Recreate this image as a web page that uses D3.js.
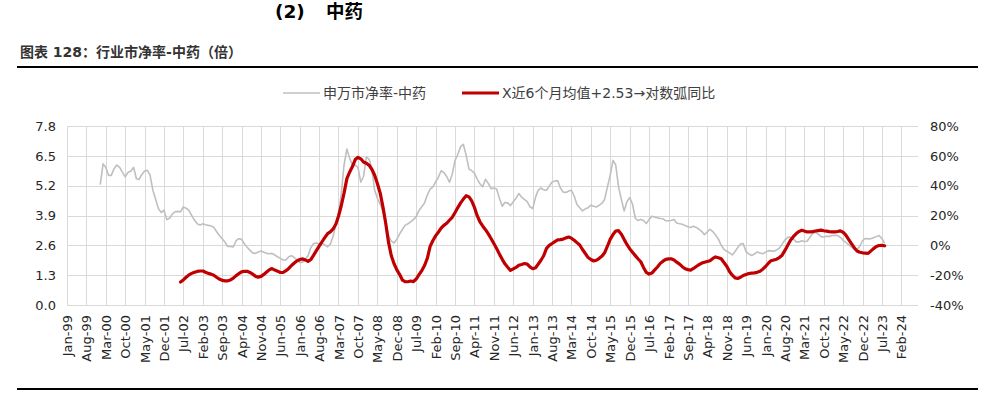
<!DOCTYPE html>
<html>
<head>
<meta charset="utf-8">
<script src="https://cdn.jsdelivr.net/npm/d3@7"></script>
<style>
  body { margin: 0; background: #fff; }
  svg text { font-family: "DejaVu Sans", "Noto Sans CJK SC", sans-serif; }
</style>
</head>
<body>
<div id="chart"></div>
<script>
// datos: PB mensual (desde ene-2000) y serie roja (desde jun-2002), hasta ago-2023
const pbStart = new Date(2000, 0, 1);
const pbValues = [
  5.25, 6.15, 6.0, 5.65, 5.65, 5.94, 6.10, 6.0, 5.78, 5.58, 5.78, 5.83,
  6.0, 5.5, 5.47, 5.68, 5.84, 5.87, 5.66, 5.0, 4.6, 4.2, 4.03, 4.13,
  3.72, 3.78, 3.96, 4.06, 4.08, 4.06, 4.27, 4.22, 4.12, 3.9, 3.7, 3.54,
  3.48, 3.54, 3.5, 3.47, 3.45, 3.38, 3.2, 3.03, 2.89, 2.74, 2.55, 2.55,
  2.53, 2.8, 2.89, 2.86, 2.67, 2.52, 2.39, 2.27, 2.25, 2.31, 2.35, 2.3,
  2.25, 2.23, 2.25, 2.18, 2.1, 2.03, 1.96, 1.96, 2.1, 2.15, 2.07, 1.96,
  1.85, 1.87, 2.0, 2.15, 2.5, 2.68, 2.7, 2.66, 2.69, 2.62, 2.54, 2.65,
  3.0, 3.5, 4.0, 4.85, 6.1, 6.8, 6.4, 6.1, 6.1, 6.0, 5.35, 5.6,
  6.45, 6.35, 5.95, 5.0, 4.65, 4.4, 4.05, 3.55, 3.0, 2.78, 2.7, 2.87,
  3.1, 3.3, 3.47, 3.54, 3.62, 3.72, 3.85, 4.12, 4.28, 4.45, 4.8, 5.05,
  5.15, 5.37, 5.56, 5.85, 5.77, 5.6, 5.35, 5.7, 6.3, 6.57, 6.9, 7.0,
  6.52, 5.92, 5.86, 5.75, 5.5, 5.28, 5.15, 5.48, 5.3, 5.07, 5.1, 5.05,
  4.65, 4.3, 4.47, 4.45, 4.33, 4.5, 4.65, 4.86, 4.7, 4.6, 4.5, 4.28,
  4.2, 4.7, 5.0, 5.1, 5.02, 5.0, 5.18, 5.36, 5.4, 5.42, 5.1, 4.92,
  4.9, 4.97, 5.0, 4.75, 4.38, 4.24, 4.1, 4.19, 4.24, 4.35, 4.3, 4.27,
  4.35, 4.44, 4.6, 5.15, 5.65, 6.3, 6.1, 5.15, 4.6, 4.1, 4.5, 4.68,
  4.4, 3.78, 3.68, 3.73, 3.68, 3.55, 3.72, 3.87, 3.83, 3.8, 3.77, 3.76,
  3.67, 3.67, 3.68, 3.73, 3.57, 3.54, 3.52, 3.46, 3.41, 3.38, 3.43, 3.38,
  3.3, 3.2, 3.06, 3.18, 3.3, 3.2, 3.05, 2.88, 2.6, 2.43, 2.34, 2.27,
  2.18, 2.33, 2.5, 2.66, 2.68, 2.32, 2.23, 2.16, 2.22, 2.31, 2.27, 2.23,
  2.3, 2.37, 2.36, 2.34, 2.4, 2.48, 2.65, 2.84, 2.95, 2.96, 2.89, 2.75,
  2.75, 2.8, 2.77, 2.78, 2.94, 3.12, 3.17, 3.09, 2.98, 2.96, 3.0, 2.98,
  3.03, 3.04, 3.03, 2.95, 2.82, 2.73, 2.63, 2.53, 2.43, 2.42, 2.56, 2.8,
  2.9, 2.88, 2.89, 2.93, 2.98, 3.03, 2.9, 2.69
];

const yoyStart = new Date(2002, 5, 1);
const yoyValues = [
  -24.6, -23.2, -21.4, -19.8, -18.8, -18.0, -17.5,
  -17.2, -17.2, -18.0, -18.8, -19.3, -20.1, -21.4, -22.6, -23.5, -23.8, -23.8, -23.2,
  -22.0, -20.3, -19.0, -17.8, -17.4, -17.4, -18.2, -19.3, -20.8, -21.3, -20.8, -19.5,
  -17.9, -16.3, -15.6, -16.6, -17.3, -18.2, -18.2, -17.0, -15.5, -13.5, -11.8, -10.4,
  -9.5, -9.1, -9.8, -10.8, -9.5, -6.6, -3.6, -0.6, 2.4, 5.2, 7.8, 9.0,
  11.0, 14.3, 19.5, 26.7, 35.0, 44.7, 49.0, 52.8, 57.5, 59.0, 58.0, 55.9,
  55.0, 53.6, 51.0, 47.0, 41.5, 35.0, 25.8, 14.7, 1.8, -7.0, -12.5, -16.5,
  -19.6, -23.4, -24.4, -24.4, -23.9, -24.3, -22.6, -19.7, -16.9, -13.5, -8.6, -0.7,
  3.2, 6.5, 8.8, 11.5, 13.4, 14.8, 16.8, 18.8, 22.0, 25.3, 28.5, 31.0,
  33.3, 32.5, 30.0, 25.6, 20.0, 15.8, 13.0, 10.5, 7.7, 4.6, 1.2, -2.2,
  -5.9, -9.4, -12.4, -14.7, -16.8, -15.8, -14.8, -13.3, -12.8, -12.2, -12.6, -14.5,
  -15.7, -15.0, -12.7, -10.0, -7.0, -2.0, 0.0, 1.2, 2.5, 3.6, 3.8, 4.2,
  5.0, 5.6, 4.8, 3.4, 1.8, 0.2, -2.8, -5.5, -8.2, -9.5, -10.5, -10.0,
  -8.7, -7.2, -5.0, -0.6, 4.0, 7.2, 9.6, 9.8, 7.5, 4.0, 0.6, -2.3,
  -4.6, -6.9, -9.0, -11.0, -14.8, -18.2, -19.3, -18.6, -16.5, -14.5, -12.1, -10.6,
  -9.4, -9.1, -9.0, -9.8, -11.3, -12.6, -14.3, -15.7, -16.3, -16.6, -15.5, -14.2,
  -13.0, -11.9, -11.3, -10.8, -10.3, -8.8, -7.8, -8.3, -9.0, -11.5, -14.0, -17.6,
  -20.0, -21.8, -22.2, -21.4, -20.2, -19.5, -18.9, -18.6, -18.5, -18.1, -17.4, -16.0,
  -14.2, -12.0, -10.3, -9.8, -9.3, -8.2, -6.6, -3.4, 0.0, 3.4, 5.8, 7.7,
  9.2, 10.1, 9.6, 9.0, 9.0, 9.2, 9.6, 9.9, 10.2, 9.8, 9.5, 9.2,
  9.0, 9.0, 9.3, 9.7, 8.8, 6.8, 4.0, 1.2, -1.6, -3.8, -4.6, -5.0,
  -5.2, -5.4, -3.9, -2.2, -0.8, -0.1, 0.0, -0.3
];

const leftTicks = [0, 1.3, 2.6, 3.9, 5.2, 6.5, 7.8];
const rightTicks = [-40, -20, 0, 20, 40, 60, 80];
const legendNames = ["申万市净率-中药", "X近6个月均值+2.53→对数弧同比"];
const colors = ["#BFBFBF", "#C00000"];

const pbData = pbValues.map((v, i) => ({ date: d3.timeMonth.offset(pbStart, i), value: v }));
const yoyData = yoyValues.map((v, i) => ({ date: d3.timeMonth.offset(yoyStart, i), value: v }));
const xTicks = d3.timeMonth.range(new Date(1999, 0, 1), new Date(2024, 2, 1), 7);

const width = 987, height = 395;
const margin = { top: 126, right: 69, bottom: 90, left: 67 };

const svg = d3.select("#chart").append("svg")
  .attr("width", width)
  .attr("height", height);

// títulos
svg.append("text").attr("x", 275).attr("y", 18)
  .style("font-size", "18.5px").style("font-weight", "bold").attr("fill", "#000")
  .text("(2)");
svg.append("text").attr("x", 326).attr("y", 18)
  .style("font-size", "18.5px").style("font-weight", "bold").attr("fill", "#000")
  .text("中药");
svg.append("text").attr("x", 20).attr("y", 57)
  .style("font-size", "14px").style("font-weight", "bold").attr("fill", "#333")
  .text("图表 128：行业市净率-中药（倍）");

svg.append("line").attr("x1", 17).attr("x2", 978).attr("y1", 67).attr("y2", 67)
  .attr("stroke", "#000").attr("stroke-width", 2);
svg.append("line").attr("x1", 17).attr("x2", 978).attr("y1", 389).attr("y2", 389)
  .attr("stroke", "#000").attr("stroke-width", 2);

// escalas
const x = d3.scaleTime()
  .domain([new Date(1999, 0, 1), new Date(2024, 7, 1)])
  .range([margin.left, width - margin.right]);
const yL = d3.scaleLinear().domain([0, 7.8]).range([height - margin.bottom, margin.top]);
const yR = d3.scaleLinear().domain([-40, 80]).range([height - margin.bottom, margin.top]);

// rejilla
const grid = svg.append("g").attr("stroke", "#D9D9D9").attr("stroke-width", 1);
grid.selectAll(".h").data(leftTicks).enter().append("line")
  .attr("x1", margin.left).attr("x2", width - margin.right)
  .attr("y1", d => Math.round(yL(d)) + 0.5).attr("y2", d => Math.round(yL(d)) + 0.5);
grid.selectAll(".v").data(xTicks).enter().append("line")
  .attr("x1", d => Math.round(x(d)) + 0.5).attr("x2", d => Math.round(x(d)) + 0.5)
  .attr("y1", margin.top).attr("y2", height - margin.bottom);

// ejes
const axisL = svg.append("g")
  .attr("transform", `translate(${margin.left - 8},0)`)
  .call(d3.axisLeft(yL).tickValues(leftTicks).tickFormat(d3.format(".1f")).tickSize(0));
const axisR = svg.append("g")
  .attr("transform", `translate(${width - margin.right + 4},0)`)
  .call(d3.axisRight(yR).tickValues(rightTicks).tickFormat(d => d + "%").tickSize(0).tickPadding(8));
const axisB = svg.append("g")
  .attr("transform", `translate(0,${height - margin.bottom})`)
  .call(d3.axisBottom(x).tickValues(xTicks).tickFormat(d3.timeFormat("%b-%y")).tickSize(0));
[axisL, axisR, axisB].forEach(a => {
  a.select(".domain").remove();
  a.selectAll("text").style("font-size", "13px").attr("fill", "#262626")
    .style("font-family", "'DejaVu Sans', sans-serif");
});
axisB.selectAll("text")
  .attr("transform", "rotate(-90)")
  .attr("x", -10).attr("y", 0).attr("dy", "0.35em")
  .style("text-anchor", "end");

// líneas
const linePB = d3.line().x(d => x(d.date)).y(d => yL(d.value));
const lineYoY = d3.line().x(d => x(d.date)).y(d => yR(d.value));

svg.append("path").datum(pbData)
  .attr("fill", "none").attr("stroke", colors[0]).attr("stroke-width", 1.6)
  .attr("stroke-linejoin", "round").attr("d", linePB);
svg.append("path").datum(yoyData)
  .attr("fill", "none").attr("stroke", colors[1]).attr("stroke-width", 3.2)
  .attr("stroke-linejoin", "round").attr("stroke-linecap", "round").attr("d", lineYoY);

// leyenda
const legendX = [283, 462];
const legendW = [1.6, 3.2];
legendNames.forEach((name, i) => {
  svg.append("line").attr("x1", legendX[i]).attr("x2", legendX[i] + 37)
    .attr("y1", 93).attr("y2", 93)
    .attr("stroke", colors[i]).attr("stroke-width", legendW[i]);
  svg.append("text").attr("x", legendX[i] + 40).attr("y", 98)
    .style("font-size", "14px").attr("fill", "#404040").text(name);
});
</script>
</body>
</html>
